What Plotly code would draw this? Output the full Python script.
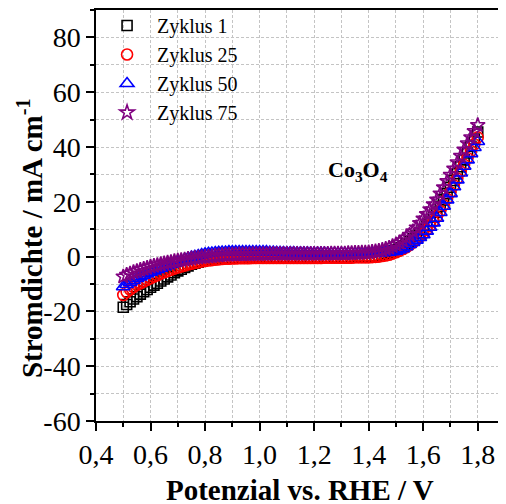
import plotly.graph_objects as go

# Potential grid (V vs. RHE), 12.5 mV sampling, 0.5 ... 1.8 V
potential = [round(0.5 + 0.0125 * i, 4) for i in range(105)]

zyklus_1 = [
    -18.5, -17.5, -16.5, -15.5, -14.6,
    -13.7, -12.8, -12.0, -11.2,
    -10.4, -9.7, -8.9, -8.2,
    -7.4, -6.7, -5.9, -5.2,
    -4.6, -4.0, -3.4, -2.8,
    -2.4, -2.0, -1.6, -1.3,
    -1.1, -1.0, -0.8, -0.7,
    -0.6, -0.5, -0.5, -0.4,
    -0.4, -0.4, -0.4, -0.3, -0.3, -0.3, -0.3, -0.3,
    -0.3, -0.3, -0.3, -0.3, -0.3, -0.3, -0.3, -0.3,
    -0.3, -0.3, -0.2, -0.2, -0.2, -0.2, -0.2, -0.2,
    -0.2, -0.2, -0.1, -0.1, -0.1, -0.1, -0.1, -0.1,
    -0.1, -0.1, 0.0, 0.0, 0.0, 0.0, 0.0, 0.0,
    0.1, 0.3, 0.5, 0.8,
    1.2, 1.6, 2.1, 2.6,
    3.2, 3.9, 4.7, 5.5,
    6.5, 7.5, 8.6, 9.8,
    11.3, 12.8, 14.5, 16.2,
    18.4, 20.7, 23.0, 25.3,
    27.8, 30.3, 32.8, 35.3,
    37.8, 40.3, 42.9, 45.5,
]

zyklus_25 = [
    -14.0, -12.9, -12.0, -11.1, -10.3,
    -9.7, -9.1, -8.5, -7.9,
    -7.3, -6.8, -6.2, -5.7,
    -5.3, -4.8, -4.4, -4.0,
    -3.6, -3.3, -2.9, -2.6,
    -2.3, -2.1, -1.8, -1.6,
    -1.4, -1.3, -1.1, -1.0,
    -0.9, -0.8, -0.8, -0.7,
    -0.7, -0.6, -0.6, -0.6, -0.6, -0.5, -0.5, -0.5,
    -0.5, -0.5, -0.5, -0.5, -0.5, -0.5, -0.5, -0.5,
    -0.5, -0.5, -0.5, -0.5, -0.5, -0.5, -0.5, -0.5,
    -0.5, -0.5, -0.4, -0.4, -0.4, -0.4, -0.4, -0.4,
    -0.4, -0.4, -0.4, -0.3, -0.3, -0.3, -0.3, -0.3,
    -0.2, -0.1, 0.0, 0.2,
    0.4, 0.7, 1.1, 1.6,
    2.1, 2.7, 3.4, 4.2,
    5.1, 6.1, 7.2, 8.3,
    9.7, 11.2, 12.8, 14.5,
    16.6, 18.8, 21.1, 23.5,
    26.0, 28.5, 31.0, 33.5,
    36.0, 38.5, 41.0, 43.5,
]

zyklus_50 = [
    -11.0, -10.2, -9.4, -8.7, -8.0,
    -7.4, -6.8, -6.2, -5.7,
    -5.2, -4.7, -4.2, -3.7,
    -3.2, -2.8, -2.3, -1.9,
    -1.5, -1.0, -0.6, -0.2,
    0.1, 0.4, 0.7, 1.0,
    1.2, 1.3, 1.5, 1.6,
    1.7, 1.7, 1.8, 1.8,
    1.8, 1.8, 1.8, 1.8, 1.8, 1.8, 1.8, 1.8,
    1.8, 1.8, 1.7, 1.7, 1.6, 1.6, 1.5, 1.5,
    1.5, 1.5, 1.4, 1.4, 1.4, 1.4, 1.3, 1.3,
    1.3, 1.3, 1.3, 1.2, 1.2, 1.2, 1.2, 1.2,
    1.2, 1.2, 1.2, 1.2, 1.2, 1.2, 1.2, 1.2,
    1.2, 1.3, 1.3, 1.4,
    1.5, 1.6, 1.8, 2.0,
    2.4, 2.9, 3.6, 4.4,
    5.2, 6.0, 7.0, 8.0,
    9.3, 10.7, 12.3, 14.0,
    16.1, 18.4, 20.7, 23.0,
    25.5, 28.0, 30.5, 33.0,
    35.3, 37.6, 39.8, 42.0,
]

zyklus_75 = [
    -7.3, -6.7, -6.2, -5.7, -5.3,
    -4.9, -4.5, -4.1, -3.7,
    -3.4, -3.1, -2.8, -2.5,
    -2.2, -2.0, -1.7, -1.5,
    -1.3, -1.1, -0.9, -0.7,
    -0.5, -0.4, -0.2, -0.1,
    0.0, 0.1, 0.3, 0.4,
    0.5, 0.6, 0.6, 0.7,
    0.7, 0.8, 0.8, 0.8, 0.8, 0.9, 0.9, 0.9,
    0.9, 0.9, 1.0, 1.0, 1.0, 1.0, 1.0, 1.0,
    1.0, 1.0, 1.0, 1.0, 1.0, 1.0, 1.0, 1.0,
    1.0, 1.0, 1.0, 1.0, 1.1, 1.1, 1.1, 1.1,
    1.1, 1.2, 1.2, 1.3, 1.3, 1.4, 1.4, 1.5,
    1.7, 1.9, 2.1, 2.4,
    2.8, 3.2, 3.8, 4.4,
    5.1, 5.9, 6.9, 7.9,
    9.2, 10.6, 12.2, 13.8,
    15.5, 17.2, 19.0, 20.8,
    23.0, 25.2, 27.5, 29.8,
    32.1, 34.4, 36.7, 39.0,
    41.3, 43.5, 45.8, 48.0,
]

series_names = ["Zyklus 1", "Zyklus 25", "Zyklus 50", "Zyklus 75"]
series_values = [zyklus_1, zyklus_25, zyklus_50, zyklus_75]
series_colors = ["#000000", "#ff0000", "#0000ff", "#800080"]
series_symbols = ["square-open", "circle-open", "triangle-up-open", "star-open"]
series_sizes = [10, 11, 12, 11]

x_tickvals = [0.4, 0.6, 0.8, 1.0, 1.2, 1.4, 1.6, 1.8]
x_ticktext = ["0,4", "0,6", "0,8", "1,0", "1,2", "1,4", "1,6", "1,8"]
y_tickvals = [-60, -40, -20, 0, 20, 40, 60, 80]
y_ticktext = ["-60", "-40", "-20", "0", "20", "40", "60", "80"]

FONT = "Liberation Serif, Times New Roman, serif"

fig = go.Figure()
for name, vals, col, sym, sz in zip(series_names, series_values, series_colors,
                                    series_symbols, series_sizes):
    fig.add_trace(go.Scatter(
        x=potential, y=vals, mode="markers", name=name,
        marker=dict(symbol=sym, size=sz, color=col, line=dict(color=col, width=1.6)),
    ))

grid = dict(showgrid=True, gridcolor="#c4c4c4", gridwidth=1, griddash="3px,2px")

fig.update_xaxes(
    range=[0.4, 1.9], tickmode="array", tickvals=x_tickvals, ticktext=x_ticktext,
    ticks="outside", ticklen=8, tickwidth=1.5, tickcolor="black",
    showline=True, linecolor="black", linewidth=1.5, mirror=True,
    tickfont=dict(family=FONT, size=28, color="black"), automargin=False,
    minor=dict(dtick=0.1, tick0=0.4, ticks="outside", ticklen=4, tickwidth=1.5,
               tickcolor="black", showgrid=True, gridcolor="#c4c4c4", griddash="3px,2px"),
    zeroline=False, **grid,
)
fig.update_yaxes(
    range=[-60, 90], tickmode="array", tickvals=y_tickvals, ticktext=y_ticktext,
    ticks="outside", ticklen=8, tickwidth=1.5, tickcolor="black",
    showline=True, linecolor="black", linewidth=1.5, mirror=True,
    tickfont=dict(family=FONT, size=28, color="black"), automargin=False,
    minor=dict(dtick=10, tick0=0, ticks="outside", ticklen=4, tickwidth=1.5,
               tickcolor="black", showgrid=True, gridcolor="#c4c4c4", griddash="3px,2px"),
    zeroline=False, **grid,
)

# the page body has an 8px default margin, so the figure is 8px smaller
fig.update_layout(
    width=498, height=496,
    margin=dict(l=88, r=1, t=2, b=83, autoexpand=False),
    paper_bgcolor="white", plot_bgcolor="white",
    separators=",.",
    font=dict(family=FONT, color="black"),
    showlegend=True,
    legend=dict(x=0.0026, y=1.0097, xanchor="left", yanchor="top",
                bgcolor="rgba(0,0,0,0)", font=dict(family=FONT, size=20, color="black"),
                itemwidth=50),
    annotations=[
        dict(text="<b>Potenzial vs. RHE / V</b>", xref="paper", yref="paper",
             x=0.499, y=0, xanchor="center", yanchor="middle", yshift=-69,
             showarrow=False, font=dict(family=FONT, size=29, color="black")),
        dict(text="<b>Stromdichte / mA cm<sup>-1</sup></b>", xref="paper", yref="paper",
             x=0, y=0.445, xanchor="center", yanchor="middle", xshift=-66,
             textangle=-90, showarrow=False,
             font=dict(family=FONT, size=29, color="black")),
        dict(text="<b>Co<sub>3</sub>O<sub>4</sub></b>", xref="paper", yref="paper",
             x=0.562, y=0.609, xanchor="left", yanchor="middle",
             showarrow=False, font=dict(family=FONT, size=22, color="black")),
    ],
)

fig.write_html("out.html")
